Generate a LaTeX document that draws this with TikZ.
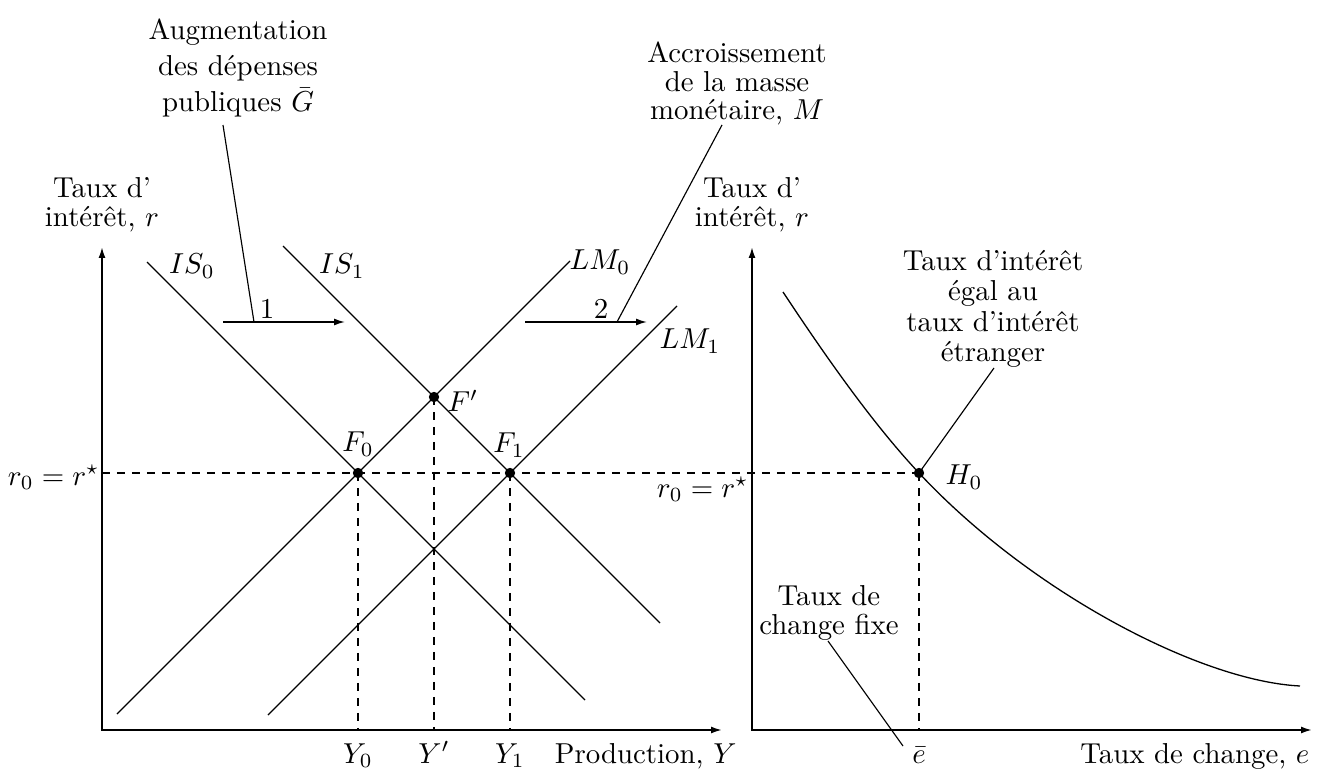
\documentclass[tikz,border=0pt]{standalone}
\usetikzlibrary{arrows.meta}
\begin{document}
\begin{tikzpicture}[x=0.3467pt,y=-0.3467pt,
  every node/.style={inner sep=0pt, font=\fontsize{10}{12}\selectfont},
  curve/.style={line width=0.45pt},
  axis/.style={line width=0.6pt,{Latex[length=3.8pt,width=2.4pt]}-{Latex[length=3.8pt,width=2.4pt]}},
  shiftarrow/.style={line width=0.5pt,-{Latex[length=3.8pt,width=2.4pt]}},
  guide/.style={line width=0.45pt, dash pattern=on 2.8pt off 2.4pt},
  leader/.style={line width=0.4pt},
  dot/.style={circle, fill, inner sep=0pt, minimum size=3.6pt},
  lbl/.style={align=center},
]
\useasboundingbox (0,0) rectangle (1329,776);

% ---------- left panel: axes ----------
\coordinate (Ltop) at (102,247);
\coordinate (Lorig) at (102,730);
\coordinate (Lend) at (722,730);
\draw[axis] (Ltop) -- (Lorig) -- (Lend);

% ---------- right panel: axes ----------
\coordinate (Rtop) at (752,247);
\coordinate (Rorig) at (752,730);
\coordinate (Rend) at (1312,730);
\draw[axis] (Rtop) -- (Rorig) -- (Rend);

% ---------- equilibrium points ----------
\node[dot] (F0) at (358,473) {};
\node[dot] (Fp) at (434,397) {};
\node[dot] (F1) at (510,473) {};
\node[dot] (H0) at (919,473) {};

% ---------- IS / LM curves ----------
\coordinate (IS0a) at (147,262);  \coordinate (IS0b) at (585,700);
\coordinate (IS1a) at (283,246);  \coordinate (IS1b) at (660,623);
\coordinate (LM0a) at (117,714);  \coordinate (LM0b) at (570,261);
\coordinate (LM1a) at (268,715);  \coordinate (LM1b) at (677,306);
\draw[curve] (IS0a) -- (IS0b);
\draw[curve] (IS1a) -- (IS1b);
\draw[curve] (LM0a) -- (LM0b);
\draw[curve] (LM1a) -- (LM1b);

\node (lIS0) at (192,266) {$IS_0$};
\node (lIS1) at (342,266) {$IS_1$};
\node (lLM0) at (600,262) {$LM_0$};
\node (lLM1) at (690,341) {$LM_1$};

% ---------- right curve ----------
\coordinate (Ca) at (783,292);
\coordinate (Cb) at (1300,686);
\draw[curve] (Ca) .. controls (828,360) and (874,425) .. (H0.center)
  .. controls (1030,592) and (1200,681) .. (Cb);

% ---------- dashed guides ----------
\coordinate (rL) at (102,473);
\draw[guide] (rL) -- (H0.center);
\draw[guide] (F0.center) -- (F0 |- Lorig);
\draw[guide] (Fp.center) -- (Fp |- Lorig);
\draw[guide] (F1.center) -- (F1 |- Lorig);
\draw[guide] (H0.center) -- (H0 |- Rorig);

% ---------- point labels ----------
\node (lF0) at (358,444) {$F_0$};
\node (lFp) at (463,401) {$F'$};
\node (lF1) at (509,445) {$F_1$};
\node (lH0) at (964,477) {$H_0$};

% ---------- axis labels ----------
\node[anchor=base east] (rstarL) at (100,485) {$r_0 = r^\star$};
\node[anchor=base east] (rstarR) at (749,497) {$r_0 = r^\star$};
\node[anchor=base] (lY0) at (358,763) {$Y_0$};
\node[anchor=base] (lYp) at (434,763) {$Y'$};
\node[anchor=base] (lY1) at (510,763) {$Y_1$};
\node[anchor=base east] (lprod) at (737,763) {Production, $Y$};
\node[anchor=base] (lebar) at (919,763) {$\bar e$};
\node[anchor=base east] (lchange) at (1310,763) {Taux de change, $e$};
\node[lbl, anchor=north] (lrL) at (102,177) {Taux d'\\[-2pt]int\'er\^et, $r$};
\node[lbl, anchor=north] (lrR) at (752,177) {Taux d'\\[-2pt]int\'er\^et, $r$};

% ---------- shift arrows ----------
\coordinate (s1a) at (223,322); \coordinate (s1b) at (345,322);
\coordinate (s2a) at (525,322); \coordinate (s2b) at (647,322);
\draw[shiftarrow] (s1a) -- (s1b);
\draw[shiftarrow] (s2a) -- (s2b);
\node (n1) at (267,309) {1};
\node (n2) at (601,309) {2};

% ---------- annotations ----------
\node[lbl, anchor=north] (augm) at (238,18)
  {Augmentation\\[0.6pt]des d\'epenses\\[0.6pt]publiques $\bar G$};
\coordinate (augmL) at (223,125);
\coordinate (s1hit) at (254,322);
\draw[leader] (augmL) -- (s1hit);

\node[lbl, anchor=north] (accr) at (737,41)
  {Accroissement\\[-2pt]de la masse\\[-2pt]mon\'etaire, $M$};
\coordinate (accrL) at (722,125);
\coordinate (s2hit) at (617,322);
\draw[leader] (accrL) -- (s2hit);

\node[lbl, anchor=north] (etr) at (993,250)
  {Taux d'int\'er\^et\\[-1.5pt]\'egal au\\[-1.5pt]taux d'int\'er\^et\\[-1.5pt]\'etranger};
\coordinate (etrL) at (994,368);
\draw[leader] (H0.center) -- (etrL);

\node[lbl, anchor=north] (fixe) at (829,585) {Taux de\\[-2pt]change fixe};
\coordinate (fixeL) at (828,641);
\coordinate (fixeE) at (903,746);
\draw[leader] (fixeL) -- (fixeE);
\end{tikzpicture}
\end{document}
